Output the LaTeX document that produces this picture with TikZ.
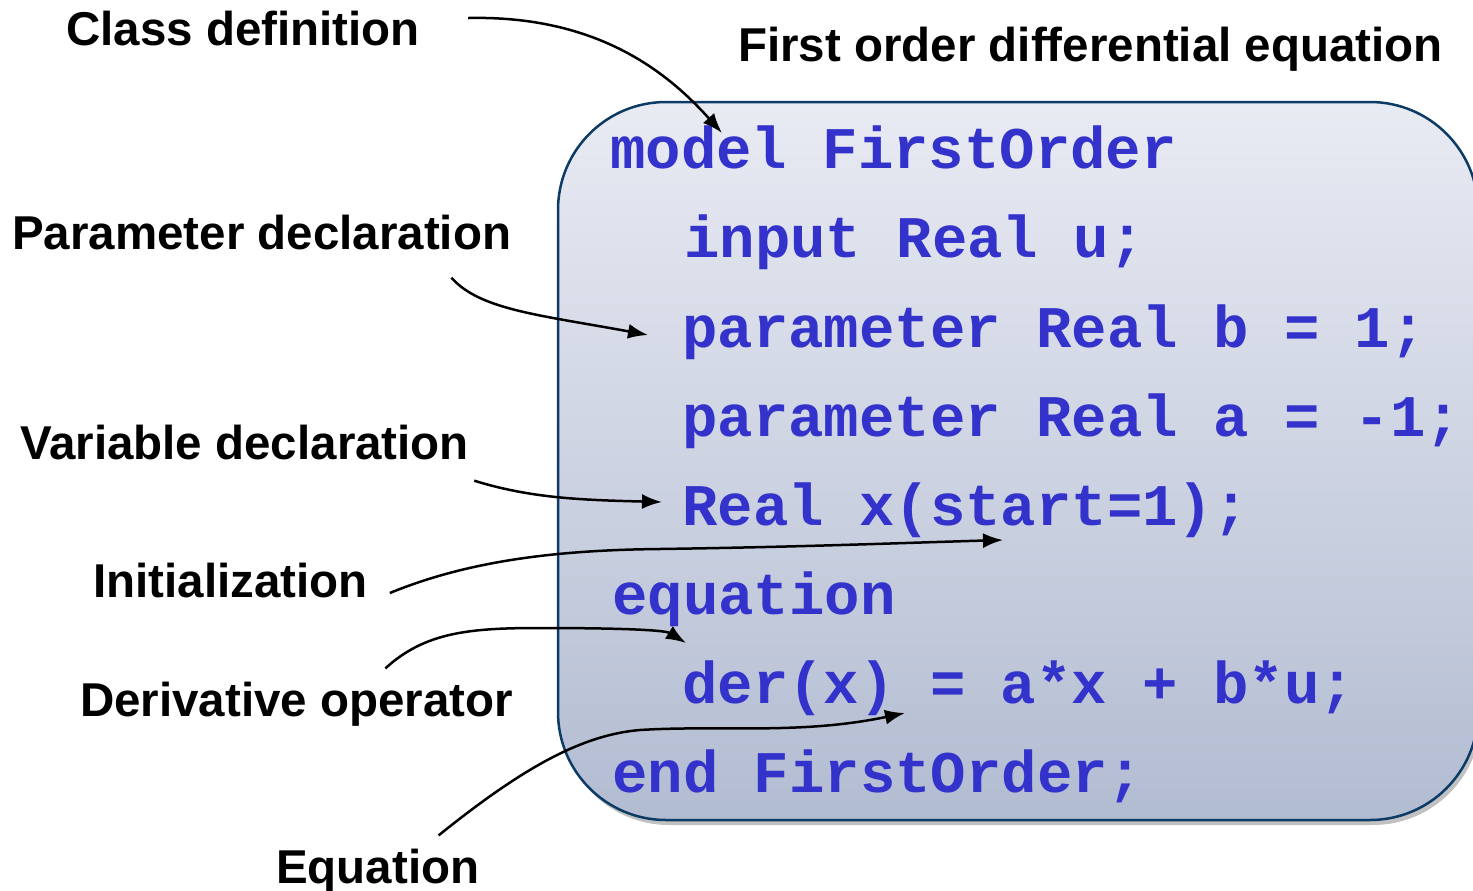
\documentclass[tikz,border=0pt]{standalone}
\usepackage{fontspec}
\setmainfont{Liberation Sans}
\newfontfamily\codefont{Liberation Mono}
\usetikzlibrary{arrows.meta}
\usetikzlibrary{shadows}
\usetikzlibrary{positioning}
\definecolor{codeblue}{RGB}{51,51,204}
\definecolor{boxline}{RGB}{12,60,102}
\definecolor{boxtop}{RGB}{233,235,243}
\definecolor{boxbottom}{RGB}{178,188,209}
\tikzset{tagtext/.style={font=\bfseries\fontsize{47.5}{50}\selectfont, anchor=base west, inner sep=0pt}}
\tikzset{code/.style={font=\codefont\bfseries\fontsize{59}{60}\selectfont, text=codeblue, anchor=base west, inner sep=0pt}}
\tikzset{connect/.style={draw, line width=2.5pt, -{Latex[length=20pt,width=15pt]}}}
\tikzset{codebox/.style={draw=boxline, line width=2.5pt, rounded corners=108pt, top color=boxtop, bottom color=boxbottom,
    drop shadow={shadow xshift=3pt, shadow yshift=-5pt, opacity=0.35, fill=black!70}}}

\begin{document}
\begin{tikzpicture}[x=1pt,y=-1pt]
\useasboundingbox (0,0) rectangle (1473,891);

%the model box
\node[codebox,minimum width=920pt,minimum height=718pt] (box) at (1018,461) {};

%code lines
\node[code] (model) at (610,168) {model FirstOrder};
\node[code] (input) at (684,257) {input Real u;};
\node[code] (paramb) at (682,347) {parameter Real b = 1;};
\node[code] (parama) at (682,436) {parameter Real a = -1;};
\node[code] (realx) at (682,525) {Real x(start=1);};
\node[code] (equation) at (612,614) {equation};
\node[code] (der) at (682,703) {der(x) = a*x + b*u;};
\node[code] (endline) at (612,792) {end FirstOrder;};

%labels
\node[tagtext] (title) at (738,62) {First order differential equation};
\node[tagtext] (classdef) at (66,46) {Class definition};
\node[tagtext] (paramdecl) at (12,249) {Parameter declaration};
\node[tagtext] (vardecl) at (20,459) {Variable declaration};
\node[tagtext] (init) at (93,597) {Initialization};
\node[tagtext] (deriv) at (80,716) {Derivative operator};
\node[tagtext] (eqn) at (276,883) {Equation};

%arrow tips
\coordinate (classtip) at (722,133);
\coordinate (paramtip) at (648,335);
\coordinate (vartip) at (662,502);
\coordinate (inittip) at (1003,540);
\coordinate (derivtip) at (686,643);
\coordinate (eqntip) at (905,713);

%arrows
\path[connect] ([shift={(48,-11)}]classdef.east) .. controls (600,15) and (670,75) .. (classtip);
\path[connect] ([shift={(-60,28)}]paramdecl.south east) .. controls (480,310) and (540,315) .. (paramtip);
\path[connect] ([shift={(5,21)}]vardecl.south east) .. controls (530,498) and (580,500) .. (vartip);
\path[connect] ([shift={(22,13)}]init.east) .. controls (470,560) and (560,550) .. (660,549) .. controls (800,547) and (900,543) .. (inittip);
\path[connect] ([shift={(-128,-13)}]deriv.north east) .. controls (425,632) and (470,628) .. (540,628) .. controls (620,628) and (665,630) .. (derivtip);
\path[connect] ([shift={(-41,-13)}]eqn.north east) .. controls (520,770) and (580,735) .. (640,730) .. controls (720,725) and (800,735) .. (eqntip);

\end{tikzpicture}
\end{document}
